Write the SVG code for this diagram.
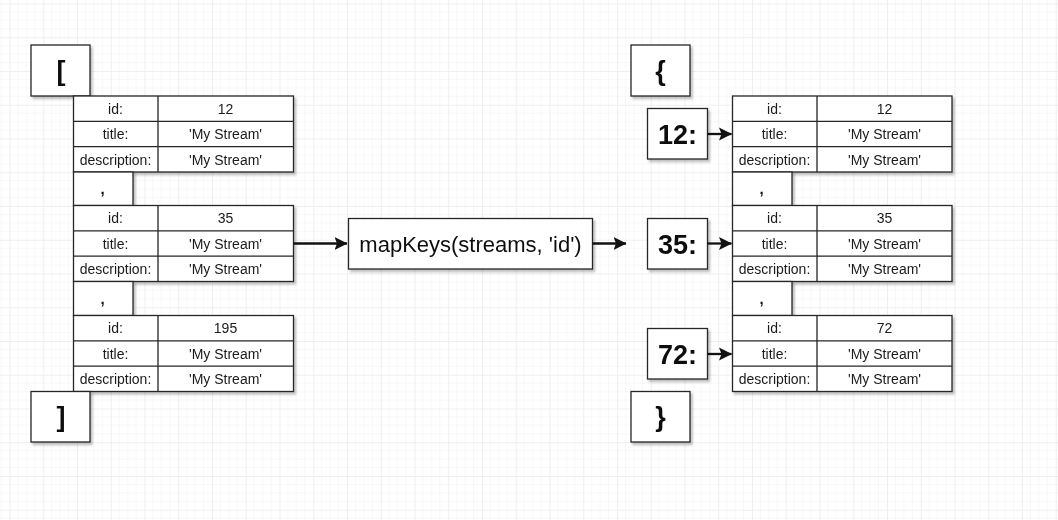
<svg xmlns="http://www.w3.org/2000/svg" width="1058" height="520" viewBox="0 0 1058 520">
<style>
.box{fill:#fff;stroke:#262626;stroke-width:1.3}
.ln{stroke:#262626;stroke-width:1.3;fill:none}
.t{font-family:"Liberation Sans",Arial,sans-serif;font-size:14px;fill:#1a1a1a;text-anchor:middle}
.big{font-family:"Liberation Sans",Arial,sans-serif;font-size:27px;font-weight:bold;fill:#111;text-anchor:middle}
.cm{font-family:"Liberation Sans",Arial,sans-serif;font-size:15px;font-weight:bold;fill:#111;text-anchor:middle}
.fn{font-family:"Liberation Sans",Arial,sans-serif;font-size:22px;fill:#111;text-anchor:middle}
.conn{stroke:#111;stroke-width:2.3;fill:none}
</style>
<defs>
<pattern id="grid" patternUnits="userSpaceOnUse" x="9.5" y="3.5" width="33.75" height="33.75">
<path d="M8.44 0V33.75M16.875 0V33.75M25.31 0V33.75M0 8.44H33.75M0 16.875H33.75M0 25.31H33.75" stroke="#f7f7f9" stroke-width="1"/>
<path d="M0.5 0V33.75M0 0.5H33.75" stroke="#efeff2" stroke-width="1"/>
</pattern>
<filter id="sh" x="-10%" y="-10%" width="130%" height="130%">
<feDropShadow dx="2" dy="2.5" stdDeviation="1.2" flood-color="#000" flood-opacity="0.25"/>
</filter>
<marker id="arr" viewBox="0 0 13 14" refX="12.5" refY="7" markerWidth="13" markerHeight="14" markerUnits="userSpaceOnUse" orient="auto">
<path d="M0,0.5 L13,7 L0,13.5 L2.5,7 Z" fill="#111"/>
</marker>
</defs>
<rect width="1058" height="520" fill="#fff"/>
<rect width="1058" height="520" fill="url(#grid)"/>

<!-- left side -->
<g id="open-bracket" filter="url(#sh)">
<rect class="box" x="31" y="45" width="59" height="51"/>
<text class="big" x="61" y="79.5">[</text>
</g>
<g id="arr-table-1" filter="url(#sh)">
<rect class="box" x="73.5" y="96" width="220" height="76"/>
<path class="ln" d="M73.5 121.3H293.5M73.5 146.7H293.5M158 96V172"/>
<text class="t" x="115.5" y="113.8">id:</text><text class="t" x="225.5" y="113.8">12</text>
<text class="t" x="115.5" y="139.2">title:</text><text class="t" x="225.5" y="139.2">'My Stream'</text>
<text class="t" x="115.5" y="164.5">description:</text><text class="t" x="225.5" y="164.5">'My Stream'</text>
</g>
<g id="arr-comma-1" filter="url(#sh)">
<rect class="box" x="73.5" y="172" width="59.5" height="33.5"/>
<text class="cm" x="102.5" y="194">,</text>
</g>
<g id="arr-table-2" filter="url(#sh)">
<rect class="box" x="73.5" y="205.5" width="220" height="76"/>
<path class="ln" d="M73.5 230.8H293.5M73.5 256.2H293.5M158 205.5V281.5"/>
<text class="t" x="115.5" y="223.3">id:</text><text class="t" x="225.5" y="223.3">35</text>
<text class="t" x="115.5" y="248.7">title:</text><text class="t" x="225.5" y="248.7">'My Stream'</text>
<text class="t" x="115.5" y="274">description:</text><text class="t" x="225.5" y="274">'My Stream'</text>
</g>
<g id="arr-comma-2" filter="url(#sh)">
<rect class="box" x="73.5" y="281.5" width="59.5" height="34"/>
<text class="cm" x="102.5" y="303.5">,</text>
</g>
<g id="arr-table-3" filter="url(#sh)">
<rect class="box" x="73.5" y="315.5" width="220" height="76"/>
<path class="ln" d="M73.5 340.8H293.5M73.5 366.2H293.5M158 315.5V391.5"/>
<text class="t" x="115.5" y="333.3">id:</text><text class="t" x="225.5" y="333.3">195</text>
<text class="t" x="115.5" y="358.7">title:</text><text class="t" x="225.5" y="358.7">'My Stream'</text>
<text class="t" x="115.5" y="384">description:</text><text class="t" x="225.5" y="384">'My Stream'</text>
</g>
<g id="close-bracket" filter="url(#sh)">
<rect class="box" x="31" y="391.5" width="59" height="50.5"/>
<text class="big" x="61" y="426">]</text>
</g>

<!-- function -->
<g id="mapkeys" filter="url(#sh)">
<rect class="box" x="348.5" y="218.5" width="244" height="50.5"/>
<text class="fn" x="470.5" y="252">mapKeys(streams, 'id')</text>
</g>

<!-- right side -->
<g id="open-brace" filter="url(#sh)">
<rect class="box" x="631" y="45" width="59" height="51"/>
<text class="big" x="660.5" y="79.5">{</text>
</g>
<g id="key-12" filter="url(#sh)">
<rect class="box" x="647.5" y="108.5" width="60" height="50.5"/>
<text class="big" x="677.5" y="143.5">12:</text>
</g>
<g id="key-35" filter="url(#sh)">
<rect class="box" x="647.5" y="218.5" width="60" height="50.5"/>
<text class="big" x="677.5" y="253.5">35:</text>
</g>
<g id="key-72" filter="url(#sh)">
<rect class="box" x="647.5" y="328.5" width="60" height="50.5"/>
<text class="big" x="677.5" y="363.5">72:</text>
</g>
<g id="obj-table-1" filter="url(#sh)">
<rect class="box" x="732.5" y="96" width="219.5" height="76"/>
<path class="ln" d="M732.5 121.3H952M732.5 146.7H952M817 96V172"/>
<text class="t" x="774.5" y="113.8">id:</text><text class="t" x="884.5" y="113.8">12</text>
<text class="t" x="774.5" y="139.2">title:</text><text class="t" x="884.5" y="139.2">'My Stream'</text>
<text class="t" x="774.5" y="164.5">description:</text><text class="t" x="884.5" y="164.5">'My Stream'</text>
</g>
<g id="obj-comma-1" filter="url(#sh)">
<rect class="box" x="732.5" y="172" width="59.5" height="33.5"/>
<text class="cm" x="761.5" y="194">,</text>
</g>
<g id="obj-table-2" filter="url(#sh)">
<rect class="box" x="732.5" y="205.5" width="219.5" height="76"/>
<path class="ln" d="M732.5 230.8H952M732.5 256.2H952M817 205.5V281.5"/>
<text class="t" x="774.5" y="223.3">id:</text><text class="t" x="884.5" y="223.3">35</text>
<text class="t" x="774.5" y="248.7">title:</text><text class="t" x="884.5" y="248.7">'My Stream'</text>
<text class="t" x="774.5" y="274">description:</text><text class="t" x="884.5" y="274">'My Stream'</text>
</g>
<g id="obj-comma-2" filter="url(#sh)">
<rect class="box" x="732.5" y="281.5" width="59.5" height="34"/>
<text class="cm" x="761.5" y="303.5">,</text>
</g>
<g id="obj-table-3" filter="url(#sh)">
<rect class="box" x="732.5" y="315.5" width="219.5" height="76"/>
<path class="ln" d="M732.5 340.8H952M732.5 366.2H952M817 315.5V391.5"/>
<text class="t" x="774.5" y="333.3">id:</text><text class="t" x="884.5" y="333.3">72</text>
<text class="t" x="774.5" y="358.7">title:</text><text class="t" x="884.5" y="358.7">'My Stream'</text>
<text class="t" x="774.5" y="384">description:</text><text class="t" x="884.5" y="384">'My Stream'</text>
</g>
<g id="close-brace" filter="url(#sh)">
<rect class="box" x="631" y="391.5" width="59" height="50.5"/>
<text class="big" x="660.5" y="426">}</text>
</g>

<g id="connectors">
<path class="conn" d="M293.5 243.5H347" marker-end="url(#arr)"/>
<path class="conn" d="M592.5 243.5H626" marker-end="url(#arr)"/>
<path class="conn" d="M707.5 134H731.5" marker-end="url(#arr)"/>
<path class="conn" d="M707.5 243.5H731.5" marker-end="url(#arr)"/>
<path class="conn" d="M707.5 354H731.5" marker-end="url(#arr)"/>
</g>
</svg>
